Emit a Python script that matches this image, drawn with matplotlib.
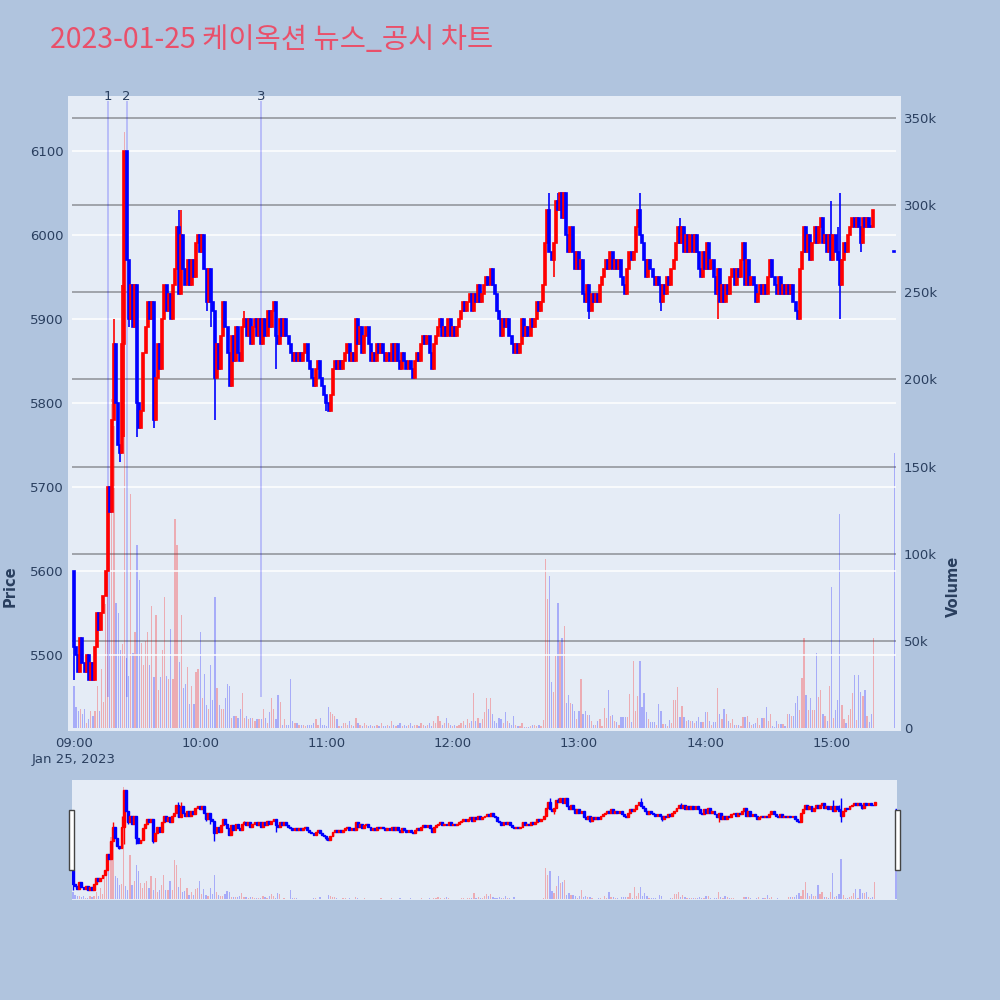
import matplotlib
matplotlib.use('Agg')
import matplotlib.pyplot as plt
from matplotlib.patches import Rectangle
from matplotlib.transforms import blended_transform_factory

# ---------------- data ----------------
title_text = "2023-01-25 케이옥션 뉴스_공시 차트"
first_open = 5600
closes = [
    5510, 5500, 5480, 5520, 5490, 5480, 5500, 5470, 5490, 5470,
    5510, 5550, 5530, 5550, 5570, 5600, 5700, 5670, 5780, 5870,
    5800, 5750, 5740, 5870, 6100, 5970, 5900, 5940, 5890, 5940,
    5800, 5770, 5790, 5860, 5890, 5920, 5900, 5920, 5780, 5830,
    5870, 5840, 5900, 5940, 5910, 5930, 5900, 5940, 5960, 6010,
    5930, 6000, 5960, 5940, 5970, 5940, 5970, 5950, 5990, 6000,
    5980, 6000, 5960, 5920, 5960, 5920, 5910, 5830, 5870, 5840,
    5880, 5920, 5890, 5860, 5820, 5880, 5850, 5890, 5860, 5850,
    5890, 5900, 5880, 5900, 5870, 5890, 5900, 5880, 5900, 5870,
    5900, 5880, 5910, 5890, 5910, 5920, 5880, 5870, 5900, 5880,
    5900, 5880, 5870, 5860, 5850, 5860, 5850, 5860, 5850, 5860,
    5870, 5850, 5840, 5830, 5820, 5840, 5850, 5830, 5820, 5810,
    5800, 5790, 5810, 5840, 5850, 5840, 5850, 5840, 5850, 5860,
    5870, 5850, 5860, 5850, 5900, 5870, 5890, 5860, 5880, 5890,
    5870, 5850, 5860, 5850, 5870, 5860, 5870, 5860, 5850, 5860,
    5850, 5870, 5850, 5870, 5850, 5840, 5860, 5850, 5840, 5850,
    5840, 5830, 5850, 5860, 5850, 5870, 5880, 5870, 5880, 5860,
    5840, 5870, 5880, 5890, 5900, 5880, 5890, 5880, 5900, 5880,
    5890, 5880, 5890, 5900, 5910, 5920, 5910, 5920, 5930, 5910,
    5930, 5920, 5940, 5920, 5930, 5940, 5950, 5940, 5960, 5940,
    5930, 5910, 5900, 5880, 5900, 5890, 5900, 5880, 5870, 5860,
    5870, 5860, 5870, 5900, 5880, 5890, 5880, 5900, 5890, 5900,
    5920, 5910, 5920, 5940, 5990, 6030, 5980, 5970, 5990, 6040,
    6030, 6050, 6020, 6050, 6000, 5980, 6010, 5980, 5960, 5980,
    5960, 5970, 5930, 5920, 5940, 5910, 5930, 5920, 5930, 5920,
    5940, 5950, 5960, 5970, 5960, 5980, 5960, 5970, 5960, 5970,
    5950, 5940, 5930, 5960, 5980, 5970, 5980, 6010, 6030, 6000,
    5990, 5970, 5950, 5970, 5960, 5950, 5940, 5950, 5940, 5920,
    5940, 5930, 5950, 5940, 5960, 5970, 5990, 6010, 5990, 6010,
    5980, 6000, 5980, 6000, 5980, 6000, 5980, 5960, 5950, 5980,
    5960, 5990, 5960, 5970, 5950, 5930, 5960, 5920, 5940, 5920,
    5940, 5930, 5950, 5960, 5940, 5960, 5950, 5970, 5990, 5940,
    5970, 5940, 5950, 5940, 5920, 5930, 5940, 5930, 5940, 5930,
    5950, 5970, 5950, 5940, 5930, 5950, 5930, 5940, 5930, 5940,
    5930, 5940, 5920, 5910, 5900, 5960, 5980, 6010, 5980, 6000,
    5970, 5990, 6010, 5990, 6010, 6020, 5990, 6000, 5980, 6000,
    5970, 6000, 5980, 5970, 5940, 5970, 5990, 5980, 6000, 6010,
    6020, 6010, 6020, 6010, 5990, 6020, 6010, 6020, 6010, 6010, 6030,
]
# volume in thousands of shares, one per minute
volumes = [
    24, 12, 10, 11, 8, 11, 3, 5, 10, 7,
    10, 24, 10, 34, 15, 71, 111, 137, 189, 173,
    72, 66, 45, 48, 342, 40, 30, 134, 43, 55,
    105, 85, 49, 36, 50, 55, 36, 70, 29, 65,
    22, 29, 45, 75, 30, 28, 57, 28, 120, 105,
    38, 65, 23, 25, 35, 14, 24, 14, 32, 34,
    55, 17, 31, 13, 11, 36, 16, 75, 23, 13,
    11, 11, 17, 25, 24, 6, 7, 7, 6, 11,
    20, 6, 7, 5, 6, 6, 4, 5, 5, 5,
    11, 6, 3, 9, 17, 11, 5, 19, 15, 2,
    5, 2, 2, 28, 4, 3, 3, 2, 2, 2,
    1, 2, 2, 2, 3, 5, 2, 6, 2, 2,
    1, 12, 9, 8, 7, 5, 1, 1, 3, 3,
    2, 4, 2, 1, 6, 3, 2, 1, 3, 2,
    1, 2, 1, 1, 2, 1, 3, 1, 1, 2,
    1, 4, 2, 1, 2, 3, 1, 2, 1, 2,
    3, 1, 2, 2, 1, 3, 2, 1, 2, 3,
    1, 4, 3, 7, 4, 2, 3, 6, 3, 2,
    1, 2, 1, 2, 3, 4, 2, 5, 3, 4,
    20, 4, 6, 3, 5, 9, 17, 11, 17, 8,
    4, 3, 6, 5, 3, 9, 4, 3, 2, 7,
    2, 1, 1, 2.8, 0.5, 0.6, 0.5, 1, 1.5, 1.5,
    1, 2, 1, 4.8, 96.7, 73.8, 87.2, 26.6, 20.8, 41.3,
    71.5, 49.5, 51.5, 58.5, 14.3, 19, 14.3, 13.8, 9.6, 5.4,
    10, 27.9, 8.3, 9.6, 7.7, 7.7, 3.9, 2, 2, 3.9,
    5, 1, 11.5, 5.5, 21.8, 7, 7.5, 3.9, 3.5, 2,
    6.5, 6.5, 6.5, 6.5, 19.5, 3.5, 38.6, 10, 18.4, 38.6,
    11.9, 20, 9.2, 5.4, 3.5, 3.5, 3.5, 1.5, 14, 9.6,
    2.5, 2.5, 1, 4.4, 3, 15.8, 15.8, 23.7, 6.5, 12.4,
    6.5, 3.9, 4.4, 3.9, 3.9, 3, 3.9, 6.5, 3.5, 3.5,
    9, 9, 3.9, 2, 3.5, 3.5, 23.2, 8.3, 5, 10.7,
    8.3, 3.9, 3, 5.2, 2, 2, 2, 1, 6.5, 6.5,
    6.9, 3.5, 2, 2.5, 3, 6, 2, 5.5, 5.5, 12,
    3.9, 8.3, 1, 0.5, 3.9, 2.5, 2.5, 2.5, 1, 8,
    8, 7, 7, 14.5, 18.4, 10.3, 28.5, 51.8, 19, 10.3,
    17.5, 10.3, 10.3, 42.8, 17.7, 22, 8.3, 7, 3.9, 23.9,
    81, 6, 10.3, 16, 123, 13.2, 5, 3, 7.5, 10.7,
    20, 30.4, 4.5, 30.4, 20.8, 18.5, 22, 7, 3.5, 8.3, 51.8,
]
wick_high = {0: 5600, 19: 5900, 23: 5940, 25: 6070, 50: 6030, 51: 6030, 81: 5910,
             198: 5960, 226: 6050, 230: 6050, 269: 6050, 288: 6020, 319: 5990,
             360: 6040, 363: 6010, 364: 6050}
wick_low = {0: 5470, 22: 5730, 24: 5760, 26: 5890, 30: 5760, 38: 5770, 63: 5910,
            65: 5890, 67: 5780, 96: 5840, 120: 5790, 121: 5790, 228: 5950,
            245: 5900, 279: 5910, 306: 5900, 345: 5900, 364: 5900, 374: 5980}
auction_minute = 390
auction_price = 5980
auction_volume = 158
news_minutes = [16, 25, 89]
news_labels = ['1', '2', '3']
hour_ticks = [0, 60, 120, 180, 240, 300, 360]
hour_labels = ['09:00\nJan 25, 2023', '10:00', '11:00', '12:00', '13:00', '14:00', '15:00']
price_ticks = [5500, 5600, 5700, 5800, 5900, 6000, 6100]
volume_ticks = [0, 50, 100, 150, 200, 250, 300, 350]

# ---------------- build candles ----------------
minutes = list(range(len(closes))) + [auction_minute]
all_close = closes + [auction_price]
opens = [first_open] + closes[:-1] + [auction_price]
highs, lows = [], []
for i, (o, c) in enumerate(zip(opens, all_close)):
    highs.append(max(o, c, wick_high.get(i, 0)))
    lows.append(min(o, c, wick_low.get(i, 99999)))
vols = volumes + [auction_volume]
up = [c > o for o, c in zip(opens, all_close)]

INC = '#FF0000'
DEC = '#0000FF'
BG = '#B0C4DE'
PLOT_BG = '#E5ECF6'
TXT = '#2a3f5f'
PRICE_LIM = (5409.5, 6165.5)
VOL_LIM = (-1.7, 362.6)


def draw(ax_v, ax_p, xlim, body_w, wick_lw, slider=False):
    ax_v.set_facecolor(PLOT_BG)
    ax_p.set_facecolor('none')
    for a in (ax_v, ax_p):
        a.set_xlim(*xlim)
        for s in a.spines.values():
            s.set_visible(False)
    ax_v.set_ylim(*VOL_LIM)
    ax_p.set_ylim(*PRICE_LIM)
    if not slider:
        ax_v.hlines(volume_ticks[1:], -0.9, 390.6, color='#9a9ea5', lw=1.3, zorder=1)
        ax_p.hlines(price_ticks, -0.9, 390.6, color='white', lw=1.1, zorder=1)
    vcols = [(1, 0, 0, 0.27) if u else (0, 0, 1, 0.27) for u in up]
    ax_v.bar(minutes, vols, width=0.6, color=vcols, zorder=2, linewidth=0)
    ccols = [INC if u else DEC for u in up]
    ax_p.vlines(minutes, lows, highs, colors=ccols, lw=wick_lw, zorder=3)
    bottoms = [min(o, c) for o, c in zip(opens, all_close)]
    heights = [max(abs(c - o), 0.5) for o, c in zip(opens, all_close)]
    ax_p.bar(minutes, heights, bottom=bottoms, width=body_w, color=ccols,
             edgecolor=ccols, linewidth=wick_lw, zorder=4)


fig = plt.figure(figsize=(10, 10), dpi=100, facecolor=BG)

# main chart: plot area x 68..901 px, y 96..731 px
rect = [0.068, 0.269, 0.833, 0.635]
ax_v = fig.add_axes(rect)
ax_p = fig.add_axes(rect)
draw(ax_v, ax_p, (-2.85, 393.1), 0.95, 1.2)

ax_p.set_yticks(price_ticks)
ax_p.set_yticklabels([str(p) for p in price_ticks])
ax_p.set_xticks(hour_ticks)
ax_p.set_xticklabels(hour_labels)
ax_p.tick_params(axis='both', length=0, colors=TXT, labelsize=9.5)
ax_p.tick_params(axis='y', pad=3)
ax_p.tick_params(axis='x', pad=4)
for lab in ax_p.get_xticklabels():
    lab.set_linespacing(1.35)

ax_v.yaxis.tick_right()
ax_v.set_yticks(volume_ticks)
ax_v.set_yticklabels(['0'] + [f'{v}k' for v in volume_ticks[1:]])
ax_v.set_xticks([])
ax_v.tick_params(axis='y', length=0, colors=TXT, labelsize=9.5, pad=2)

# news markers
trans = blended_transform_factory(ax_p.transData, ax_p.transAxes)
ax_p.vlines(news_minutes, 5450, 6159, colors=(0, 0, 1, 0.25), lw=1.1, zorder=1.5)
for m, lab in zip(news_minutes, news_labels):
    ax_p.text(m, 0.9985, lab, transform=trans, ha='center', va='center',
              color=TXT, fontsize=9.5, zorder=6)

fig.text(0.010, 0.4135, 'Price', rotation=90, ha='center', va='center',
         color=TXT, fontsize=10.5, fontweight='bold')
fig.text(0.953, 0.4135, 'Volume', rotation=90, ha='center', va='center',
         color=TXT, fontsize=10.5, fontweight='bold')

fig.text(0.050, 0.960, title_text, ha='left', va='center', color='#E9506A',
         fontsize=20.5, family=['Noto Sans CJK KR', 'DejaVu Sans'])

# range slider: x 72..897 px, y 780..900 px
srect = [0.072, 0.100, 0.825, 0.120]
sv = fig.add_axes(srect)
sp = fig.add_axes(srect)
draw(sv, sp, (-0.47, 390.5), 0.9, 1.0, slider=True)
for a in (sv, sp):
    a.set_xticks([])
    a.set_yticks([])
for hx in (0.069, 0.895):
    fig.patches.append(Rectangle((hx, 0.130), 0.0045, 0.060, transform=fig.transFigure,
                                 facecolor='white', edgecolor='#444444', lw=1.0, zorder=10))

fig.savefig('out.png', dpi=100, facecolor=BG)
